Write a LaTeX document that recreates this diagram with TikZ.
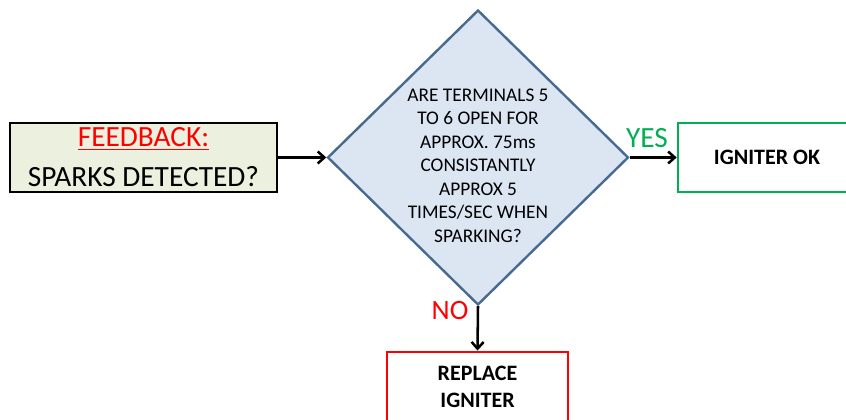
\documentclass[tikz,border=0pt]{standalone}
\usepackage{fontspec}
\setmainfont{Carlito}
\usetikzlibrary{shapes.geometric,arrows.meta}

\definecolor{boxgreen}{HTML}{EBF1DE}
\definecolor{diafill}{HTML}{DCE6F2}
\definecolor{diaedge}{HTML}{476A92}
\definecolor{okgreen}{HTML}{00B050}

\tikzset{every picture/.style={line width=0.75pt}}
\tikzset{
  flowarrow/.style={line width=1.9pt,-{Straight Barb[length=5pt,width=9pt]}},
  endbox/.style={rectangle,fill=white,line width=2pt,minimum width=133.5pt,minimum height=51.75pt,align=center,inner sep=0pt,font=\fontsize{16.5}{20}\selectfont\bfseries}
}

\begin{document}
\begin{tikzpicture}[x=0.75pt,y=0.75pt,yscale=-1,xscale=1]
    \useasboundingbox (0,0) rectangle (846,420);
    %Shape: Rectangle [id:feedback]
    \node (feedback) [rectangle,draw=black,fill=boxgreen,line width=2.2pt,minimum width=200.25pt,minimum height=51.75pt,inner sep=0pt,align=center,font=\fontsize{22}{30}\selectfont] at (143.5,157.5) {\textcolor{red}{\underline{FEEDBACK:}}\\SPARKS DETECTED?};
    %Shape: Diamond [id:check]
    \node (check) [diamond,draw=diaedge,fill=diafill,line width=1.8pt,minimum width=225.75pt,minimum height=221.25pt,inner sep=0pt] at (478,157.5) {};
    % Text Node
    \node (checktext) [align=center,inner sep=0pt,font=\fontsize{14.5}{17.6}\selectfont] at (478,165.5) {ARE TERMINALS 5\\TO 6 OPEN FOR\\APPROX. 75ms\\CONSISTANTLY\\APPROX 5\\TIMES/SEC WHEN\\SPARKING?};
    %Shape: Rectangle [id:ok]
    \node (ok) [endbox,draw=okgreen] at (767,157.5) {IGNITER OK};
    %Shape: Rectangle [id:replace]
    \node (replace) [endbox,draw=red,line width=2.2pt,minimum width=135.75pt,minimum height=52.5pt] at (477.5,387) {REPLACE\\IGNITER};
    %Straight Lines [id:arrows]
    \draw [flowarrow] (feedback.east) -- (check.west) ;
    \draw [flowarrow] (check.east) -- (ok.west) ;
    \draw [flowarrow] (check.south) -- (replace.north) ;
    % Text Node
    \node (yes) [inner sep=0pt,text=okgreen,font=\fontsize{22}{22}\selectfont] at (647,138) {YES};
    % Text Node
    \node (no) [inner sep=0pt,text=red,font=\fontsize{21}{21}\selectfont] at (450,311) {NO};
\end{tikzpicture}
\end{document}
